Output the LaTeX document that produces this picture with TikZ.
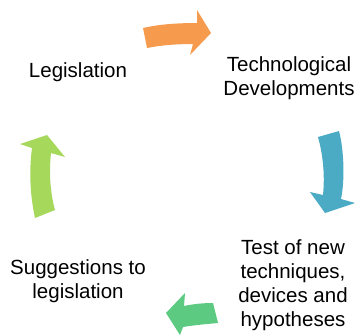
\documentclass[tikz,border=0pt]{standalone}
\usepackage{fontspec}
\setmainfont{Liberation Sans}
\usepackage{tikz}
\usetikzlibrary{positioning}

\definecolor{arrorange}{RGB}{246,155,78}
\definecolor{arrblue}{RGB}{75,170,196}
\definecolor{arrgreen}{RGB}{92,202,128}
\definecolor{arrlime}{RGB}{166,216,92}

\tikzstyle{stagetext} = [align=center, inner sep=0pt, font=\fontsize{20.5}{24}\selectfont]
\tikzstyle{blockarrow} = [draw=none]

\begin{document}
\begin{tikzpicture}[x=1pt,y=-1pt]
    \useasboundingbox (0,0) rectangle (361,335);

    % stages of the cycle
    \node[stagetext] (legis) at (78,72) {Legislation};
    \node[stagetext] (techdev) at (289,78.5) {Technological\\Developments};
    \node[stagetext] (tests) at (293,285) {Test of new\\techniques,\\devices and\\hypotheses};
    \node[stagetext] (suggest) at (78,281.5) {Suggestions to\\legislation};

    % curved block arrows between the stages
    \path[blockarrow, fill=arrorange] (143,28) .. controls (160,24) and (180,23) .. (197,23)
        -- (197,10) -- (211,33) -- (190,55) -- (193,44)
        .. controls (178,44) and (162,45) .. (147,48) -- cycle;
    \path[blockarrow, fill=arrblue] (318,137) -- (339,131) .. controls (344,150) and (345,180) .. (341,199)
        -- (355,203) -- (325,213) -- (310,192) -- (323,195)
        .. controls (325,175) and (323,155) .. (318,137) -- cycle;
    \path[blockarrow, fill=arrgreen] (213,303) .. controls (203,303) and (193,304) .. (184,306)
        -- (185,293) -- (166,313) -- (180,335) -- (183,327)
        .. controls (195,325) and (207,324) .. (218,323) -- cycle;
    \path[blockarrow, fill=arrlime] (35,218) .. controls (30,195) and (29,170) .. (32,148)
        -- (20,144) -- (47,135) -- (65,157) -- (51,153)
        .. controls (49,172) and (50,192) .. (55,210) -- cycle;
\end{tikzpicture}
\end{document}
